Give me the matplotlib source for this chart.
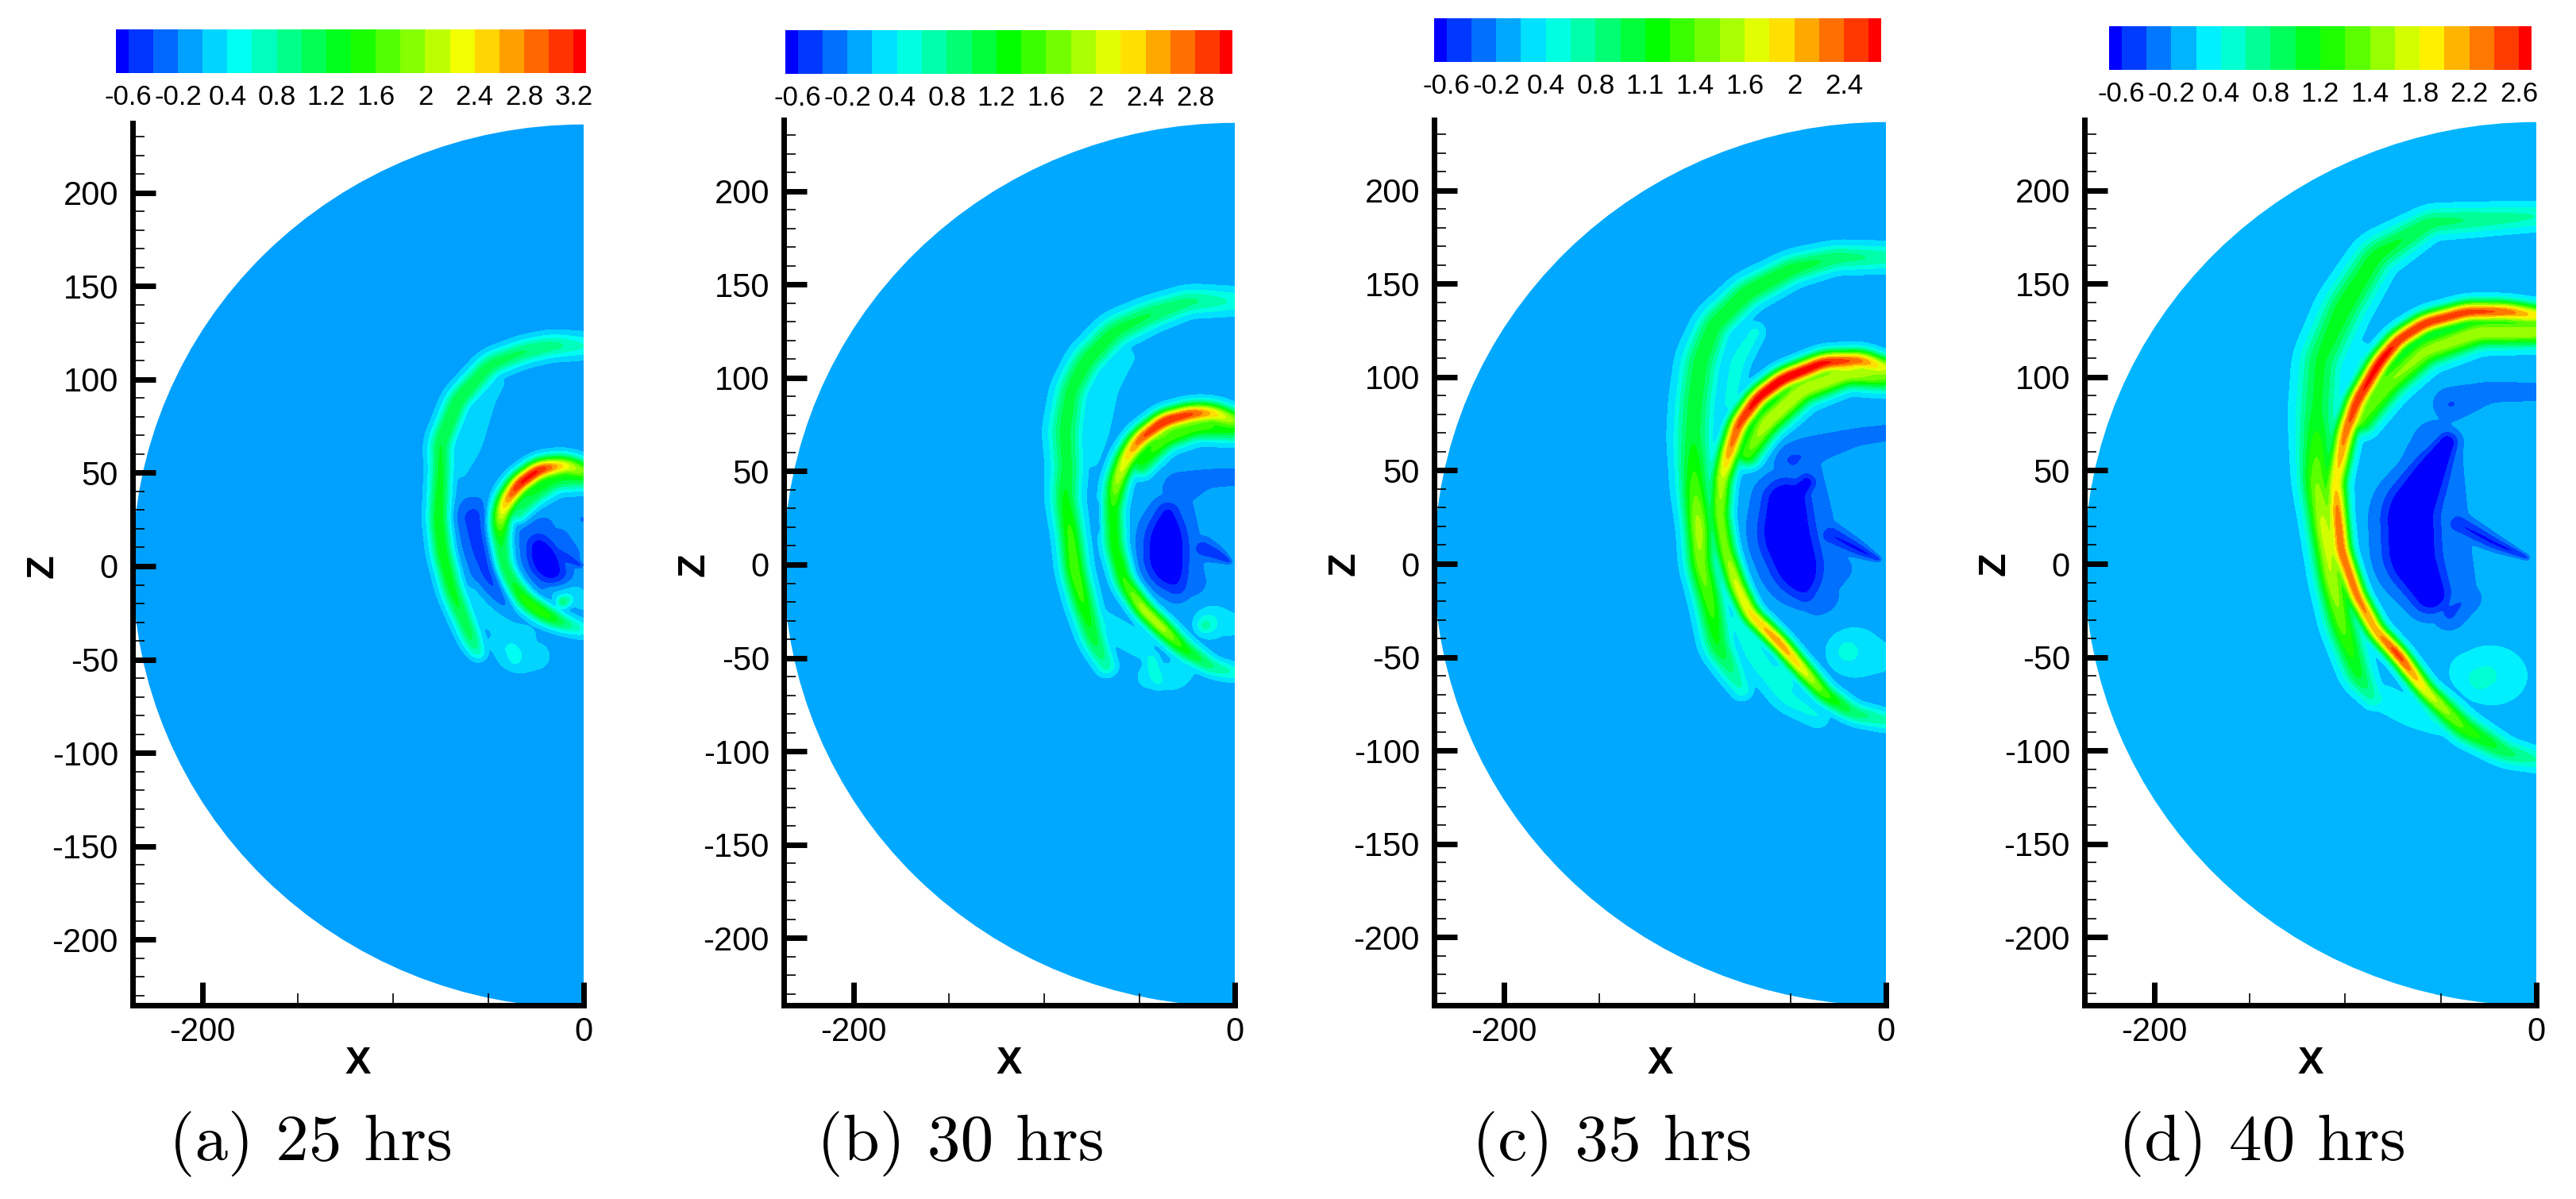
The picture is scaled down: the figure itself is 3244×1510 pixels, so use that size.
import numpy as np
import matplotlib
matplotlib.use("Agg")
from matplotlib import pyplot as plt
from matplotlib.colors import BoundaryNorm, LinearSegmentedColormap, ListedColormap
from matplotlib.patches import Circle
from matplotlib.ticker import FixedLocator

W, H = 3244, 1510

CAPTIONS = ["(a) 25 hrs", "(b) 30 hrs", "(c) 35 hrs", "(d) 40 hrs"]
CAPTION_X = [391, 1210, 2030, 2849]

# colour bars: first level, step, number of levels, the label of every second level
LEVEL_STEP = [3.8 / 18, 3.4 / 16, 3.0 / 16, 3.2 / 16]
LEVEL_COUNT = [19, 18, 18, 17]
BAR_LABELS = [
    ["-0.6", "-0.2", "0.4", "0.8", "1.2", "1.6", "2", "2.4", "2.8", "3.2"],
    ["-0.6", "-0.2", "0.4", "0.8", "1.2", "1.6", "2", "2.4", "2.8"],
    ["-0.6", "-0.2", "0.4", "0.8", "1.1", "1.4", "1.6", "2", "2.4"],
    ["-0.6", "-0.2", "0.4", "0.8", "1.2", "1.4", "1.8", "2.2", "2.6"],
]
BACKGROUND = [-0.07, -0.07, -0.13, -0.10]
RADIUS = 236.5
ZERO_ROW = [713, 711, 710, 710]

# structures: (x, z, value along the crest, half width)
OUTER_A = [(0, 118, .45, 6), (-17, 118, .8, 6), (-31, 115, .9, 6), (-49, 108, 1.0, 6),
           (-66, 89, 1.1, 6), (-75, 66, 1.1, 6), (-75, 51, 1.15, 5.5), (-76, 25, 1.3, 5.5),
           (-74, 7, 1.3, 5.5), (-69, -13, 1.2, 5.5), (-65, -23, 1.1, 5.5), (-58, -41, .9, 5), (-55, -47, .45, 4)]
INNER_A = [(0, 51, 1.7, 5.5), (-10, 54, 2.3, 5.5), (-23, 52, 3.3, 5.5), (-34, 44, 3.3, 5.5),
           (-41, 34, 2.6, 5.5), (-44, 25, 2.0, 5.5), (-44, 14, 1.3, 5.5), (-42, 0, 1.25, 5),
           (-37, -10, 1.25, 5), (-30, -19, 1.5, 5), (-20, -26, 1.5, 5), (-10, -31, .85, 4.5), (0, -34, .35, 4.5)]
SHOULDER_A = [(0, 47, 1.0, 6), (-15, 47, 1.15, 6.5), (-27, 39, 1.15, 6.5), (-35, 28, .85, 5.5)]
LIGHT_A = [[(-46, 99, .17, 5), (-52, 90, .2, 6), (-60, 65, .18, 7), (-66, 51, .16, 5)],
           [(-59, -14, .15, 6), (-51, -26, .18, 6), (-40, -35, .15, 6), (-30, -38, .15, 7)],
           [(-38, -44, .4, 4), (-36, -47, .42, 5), (-36, -50, .35, 4)],
           [(-45, -40, .15, 6), (-36, -50, .17, 9), (-24, -48, .15, 8)],
           [(-11, -19, .95, 3.5), (-9, -18, .7, 3.5)],
           [(-16, -15, .18, 5), (-6, -14, .2, 7), (0, -20, .15, 4)]]
SINK_A = [[(-58, 27, -.48, 10), (-53, 10, -.52, 10), (-47, -7, -.5, 9.5), (-41, -17, -.28, 7)],
          [(-26, 18, -.34, 12), (-22, 2, -.36, 15), (-18, -6, -.32, 12)],
          [(-14, 14, -.3, 8), (-8, 6, -.32, 7)],
          [(-24, 12, -.65, 8), (-21, 5, -.95, 9.5), (-18, -2, -.9, 9), (-12, -6, -.4, 7)],
          [(-14, 7, -.5, 5), (-6, 3, -.55, 3), (-1, 0, -.6, 1)],
          [(-1, 26, -.25, 1.5), (-1, 24, -.25, 1.5)]]

OUTER_B = [(0, 141, .4, 6.5), (-24, 141, .75, 6.5), (-44, 134, .9, 7), (-63, 125, 1.0, 7.5),
           (-78, 109, 1.05, 7.5), (-86, 93, 1.0, 7.5), (-89, 72, 1.0, 8), (-88, 52, 1.0, 7.5),
           (-89, 36, 1.15, 7), (-86, 15, 1.4, 6.5), (-84, -3, 1.5, 6.5), (-80, -19, 1.35, 6.5),
           (-74, -40, 1.0, 6), (-67, -55, .55, 5)]
INNER_B = [(0, 77, 1.7, 5.5), (-11, 81, 2.3, 5.5), (-22, 81, 2.9, 5.5), (-37, 77, 3.1, 5.5),
           (-50, 67, 2.8, 5.5), (-57, 57, 2.2, 5.5), (-62, 44, 1.8, 5.5), (-64, 30, 1.25, 5.5),
           (-63, 10, 1.25, 5.5), (-58, -9, 1.35, 5.2), (-48, -24, 1.9, 5), (-38, -34, 1.9, 5),
           (-27, -45, 1.25, 5), (-12, -55, .7, 4.5), (0, -58, .4, 4.5)]
SHOULDER_B = [(0, 72, 1.1, 6), (-20, 74, 1.45, 6.5), (-37, 68, 1.55, 6.5), (-50, 53, 1.1, 6)]
LIGHT_B = [[(-57, 112, .2, 5), (-67, 95, .22, 6), (-72, 70, .2, 6), (-75, 55, .14, 4)],
           [(-70, -30, .18, 6), (-60, -37, .2, 7), (-48, -44, .18, 7)],
           [(-44, -50, .35, 4), (-42, -58, .4, 4.5), (-40, -63, .28, 4)],
           [(-46, -60, .15, 7), (-30, -60, .18, 8), (-24, -48, .13, 7)],
           [(-16, -33, .7, 3.5), (-12, -30, .15, 10), (-2, -32, .15, 7)]]
SINK_B = [[(-32, 30, -.34, 11), (-33, 12, -.38, 15), (-30, -4, -.36, 14), (-22, -10, -.28, 9)],
          [(-35, 28, -.65, 8), (-36, 14, -.98, 12), (-36, 0, -.98, 12), (-30, -12, -.5, 8)],
          [(-30, 40, -.4, 9), (-15, 46, -.3, 6), (0, 47, -.3, 5.5)],
          [(-18, 9, -.55, 6), (-8, 5, -.6, 3.5), (-2, 1, -.6, 1)],
          [(-72, 33, -.28, 2), (-72, 18, -.28, 2)]]

OUTER_C = [(0, 164, .45, 6.5), (-26, 164, .65, 6.5), (-49, 158, .85, 7), (-73, 145, .9, 7.5),
           (-90, 128, .85, 8), (-97, 109, .85, 9), (-100, 87, .85, 9), (-101, 68, .85, 9),
           (-100, 41, 1.2, 8), (-98, 19, 1.6, 7), (-97, 0, 1.4, 7), (-92, -21, 1.2, 7),
           (-88, -44, .9, 7), (-80, -59, .5, 6), (-75, -68, .3, 5)]
INNER_C = [(0, 105, 1.6, 5.5), (-13, 109, 2.3, 5.5), (-32, 108, 2.7, 5.5), (-54, 99, 2.85, 5.5),
           (-67, 89, 2.75, 5.5), (-77, 75, 2.5, 5.5), (-82, 60, 2.2, 5.5), (-86, 45, 1.6, 5.5),
           (-87, 26, 1.4, 5.5), (-84, 7, 1.4, 5.5), (-78, -12, 1.75, 5.2), (-71, -27, 1.9, 5),
           (-56, -42, 2.25, 4.8), (-45, -55, 1.9, 4.8), (-32, -70, 1.2, 5), (-17, -80, .65, 5), (0, -84, .4, 5)]
SHOULDER_C = [(0, 100, 1.3, 7), (-20, 102, 1.65, 7), (-44, 93, 1.65, 7.5), (-63, 75, 1.65, 7.5), (-73, 58, 1.2, 6.5)]
LIGHT_C = [[(-68, 125, .2, 5), (-78, 108, .25, 6), (-82, 85, .2, 6)],
           [(-78, -30, .2, 7), (-68, -50, .25, 8), (-52, -72, .22, 7), (-35, -82, .15, 6)],
           [(-55, -58, .32, 5), (-52, -65, .28, 5)],
           [(-21, -47, .3, 7), (-18, -47, .08, 16), (-4, -50, .08, 9)]]
SINK_C = [[(-45, 50, -.34, 13), (-46, 25, -.4, 18), (-42, 0, -.4, 18), (-35, -18, -.34, 12)],
          [(-52, 34, -.95, 13), (-52, 15, -1.05, 15), (-46, -3, -.95, 14), (-42, -16, -.55, 8)],
          [(-41, 44, -.7, 6), (-48, 36, -.8, 8)],
          [(-50, 55, -.45, 10), (-35, 62, -.35, 8), (-15, 68, -.32, 6), (0, 70, -.32, 5.5)],
          [(-30, 16, -.6, 6), (-15, 8, -.65, 4), (-3, 2, -.65, 1.2)],
          [(-25, -2, -.38, 8), (-30, -10, -.38, 7)]]

OUTER_D = [(0, 186, .4, 6.5), (-55, 183, .7, 7), (-84, 165, .9, 9), (-101, 137, .95, 10),
           (-113, 109, .85, 10), (-115, 81, .85, 10), (-115, 44, 1.4, 8), (-111, 18, 1.7, 7.5),
           (-107, -8, 1.6, 7.5), (-102, -32, 1.3, 7.5), (-93, -60, .85, 7), (-85, -73, .35, 5)]
INNER_D = [(0, 133, 1.9, 5.5), (-16, 135, 2.4, 5.5), (-36, 135, 2.55, 5.5), (-58, 129, 2.6, 5.5),
           (-72, 120, 2.6, 5.5), (-82, 108, 2.75, 5.5), (-94, 87, 2.6, 5.5), (-100, 70, 2.35, 5.5),
           (-105, 44, 1.9, 5.5), (-104, 27, 2.35, 5.2), (-102, 7, 2.4, 5.2), (-94, -17, 2.35, 5),
           (-84, -36, 2.15, 5), (-72, -49, 2.6, 4.8), (-58, -68, 1.8, 5), (-38, -88, 1.2, 6.5),
           (-16, -101, .7, 6), (0, -105, .4, 5.5)]
SHOULDER_D = [(0, 124, 1.6, 7), (-30, 124, 1.6, 7.5), (-58, 114, 1.5, 8), (-77, 97, 1.4, 8), (-92, 76, 1.2, 7)]
LIGHT_D = [[(-80, -72, .18, 7), (-65, -80, .2, 7), (-50, -85, .16, 7)],
           [(-92, 115, .18, 5), (-93, 92, .16, 4)],
           [(-30, -62, .33, 8), (-26, -60, .3, 8)],
           [(-36, -58, .1, 12), (-22, -60, .12, 20), (-15, -60, .1, 12)]]
SINK_D = [[(-52, 65, -.34, 14), (-58, 35, -.42, 20), (-55, 5, -.42, 20), (-45, -15, -.38, 14)],
          [(-46, 66, -.8, 6), (-56, 48, -.95, 11), (-66, 28, -1.05, 15), (-65, 3, -1.05, 15), (-55, -17, -.9, 11)],
          [(-46, 85, -.42, 9), (-24, 92, -.3, 7), (0, 92, -.3, 6)],
          [(-42, 22, -.6, 6), (-22, 11, -.65, 4), (-4, 3, -.65, 1.2)],
          [(-46, -27, -.45, 9), (-36, -18, -.38, 8)]]

STRUCTURES = [
    [OUTER_A, INNER_A, SHOULDER_A] + LIGHT_A + SINK_A,
    [OUTER_B, INNER_B, SHOULDER_B] + LIGHT_B + SINK_B,
    [OUTER_C, INNER_C, SHOULDER_C] + LIGHT_C + SINK_C,
    [OUTER_D, INNER_D, SHOULDER_D] + LIGHT_D + SINK_D,
]

# pixel boxes of the figure
AX_BOX = [(167, 155, 735, 1266), (987, 151, 1555, 1266), (1806, 151, 2375, 1266), (2625, 151, 3194, 1266)]
BAR_BOX = [(146, 37, 738, 92), (989, 38, 1552, 93), (1806, 23, 2369, 78), (2656, 33, 3188, 88)]


def add_px_axes(fig, box):
    x0, y0, x1, y1 = box
    return fig.add_axes([x0 / W, 1 - y1 / H, (x1 - x0) / W, (y1 - y0) / H])


def soften(a, k):
    """ Сгладить ряд скользящим средним """
    pad = np.pad(a, k, mode='edge')
    return np.convolve(pad, np.ones(2 * k + 1) / (2 * k + 1), mode='valid')


def build_field(structures, base, zmax):
    gx = np.arange(-RADIUS, 0.25, 0.5)
    gz = np.arange(-zmax, zmax + 0.25, 0.5)
    up = np.zeros((gz.size, gx.size))
    down = np.zeros((gz.size, gx.size))
    for st in structures:
        st = np.array(st, dtype=float)
        seg = np.hypot(np.diff(st[:, 0]), np.diff(st[:, 1]))
        s = np.r_[0, np.cumsum(seg)]
        t = np.arange(0, s[-1] + 0.4, 0.4)
        k = min(12, t.size // 4)
        px, pz = soften(np.interp(t, s, st[:, 0]), k), soften(np.interp(t, s, st[:, 1]), k)
        pv, pw = soften(np.interp(t, s, st[:, 2]), k) - base, soften(np.interp(t, s, st[:, 3]), k)
        one = np.zeros_like(up)
        for x, z, v, w in zip(px, pz, pv, pw):
            r = 3 * w
            i0, i1 = np.searchsorted(gx, [x - r, x + r])
            j0, j1 = np.searchsorted(gz, [z - r, z + r])
            if i1 <= i0 or j1 <= j0:
                continue
            xx, zz = np.meshgrid(gx[i0:i1], gz[j0:j1])
            g = abs(v) * np.exp(-((xx - x) ** 2 + (zz - z) ** 2) / w ** 2)
            one[j0:j1, i0:i1] = np.maximum(one[j0:j1, i0:i1], g)
        # соседние гребни сливаются, а не дают провал между собой
        if pv[0] > 0:
            up += one ** 3
        else:
            down = np.maximum(down, one)
    field = base + np.cbrt(up) - down
    field = np.apply_along_axis(soften, 0, field, 2)
    field = np.apply_along_axis(soften, 1, field, 2)
    return gx, gz, field


fig = plt.figure(figsize=(W / 100, H / 100), dpi=100)
plt.rcParams['font.family'] = ['Liberation Sans', 'DejaVu Sans']

for n in range(4):
    levels = -0.6 + LEVEL_STEP[n] * np.arange(LEVEL_COUNT[n])
    colors = LinearSegmentedColormap.from_list("rb", ["#0000ff", "#00ffff", "#00ff00", "#ffff00", "#ff0000"])(
        np.linspace(0, 1, LEVEL_COUNT[n] + 1))
    cmap = ListedColormap(colors)
    norm = BoundaryNorm(levels, cmap.N, extend='both')

    # Поле и оси
    ax = add_px_axes(fig, AX_BOX[n])
    x0, y0, x1, y1 = AX_BOX[n]
    zero = ZERO_ROW[n]
    zlo = -(y1 - zero) / 2.352
    zhi = (zero - y0) / 2.352
    gx, gz, field = build_field(STRUCTURES[n], BACKGROUND[n], RADIUS)
    cf = ax.contourf(gx, gz, field, levels=levels, cmap=cmap, norm=norm, extend='both')
    circle = Circle((0, 0), RADIUS, transform=ax.transData)
    cf.set_clip_path(circle)
    ax.set_xlim(-RADIUS, 0)
    ax.set_ylim(zlo, zhi)

    ax.spines['right'].set_visible(False)
    ax.spines['top'].set_visible(False)
    ax.spines['left'].set_linewidth(5)
    ax.spines['bottom'].set_linewidth(5)
    ax.xaxis.set_major_locator(FixedLocator([-200, 0]))
    ax.xaxis.set_minor_locator(FixedLocator([-150, -100, -50]))
    ax.yaxis.set_major_locator(FixedLocator(np.arange(-200, 201, 50)))
    ax.yaxis.set_minor_locator(FixedLocator([t for t in range(-230, 231, 10) if t % 50]))
    ax.set_xticklabels(["-200", "0"])
    ax.set_yticklabels([str(t) for t in range(-200, 201, 50)])
    ax.tick_params(which='major', direction='in', length=21, width=5, labelsize=30, pad=13)
    ax.tick_params(which='minor', direction='in', length=11, width=1.2)
    ax.tick_params(axis='x', which='major', pad=10)
    for t in ax.get_xticklines():
        t.set_clip_on(False)

    cx = (x0 + x1) / 2
    fig.text(cx / W, 1 - 1340 / H, "X", fontsize=35, fontweight='bold', ha='center', va='center')
    fig.text((x0 - 113) / W, 1 - zero / H, "Z", fontsize=35, fontweight='bold', rotation=90,
             ha='center', va='center')
    fig.text(CAPTION_X[n] / W, 1 - 1440 / H, CAPTIONS[n], fontsize=60, family='cmr10',
             ha='center', va='center')

    # Цветовая шкала
    bar = add_px_axes(fig, BAR_BOX[n])
    step = LEVEL_STEP[n]
    edges = np.r_[levels[0] - step / 2, levels, levels[-1] + step / 2]
    mids = (edges[:-1] + edges[1:]) / 2
    bar.pcolormesh(edges, [0, 1], mids[np.newaxis, :], cmap=cmap, norm=norm)
    bar.set_xlim(edges[0], edges[-1])
    bar.set_ylim(0, 1)
    bar.axis('off')
    for i, label in enumerate(BAR_LABELS[n]):
        bar.text(levels[2 * i], -0.55, label, fontsize=25, ha='center', va='center')

fig.savefig("out.png", dpi=100)
